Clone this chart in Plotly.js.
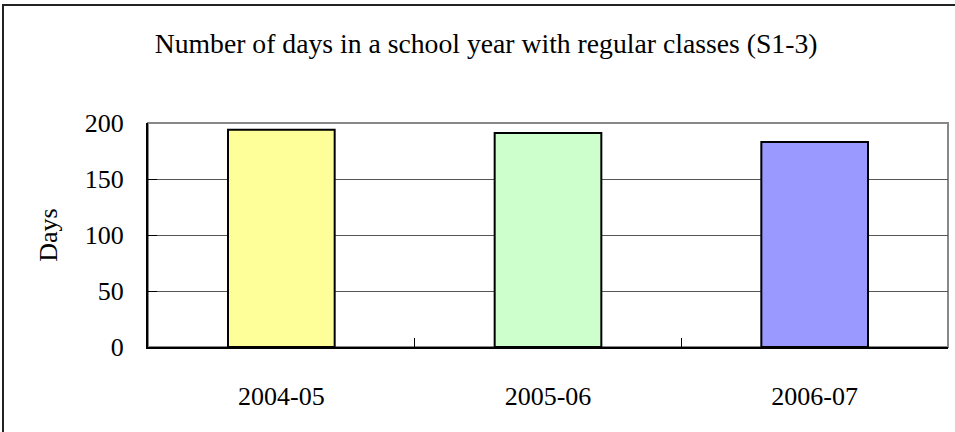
<!DOCTYPE html>
<html>
<head>
<meta charset="utf-8">
<script src="https://cdn.plot.ly/plotly-3.0.1.min.js"></script>
<style>
  html, body { margin: 0; padding: 0; background: #fff; overflow: hidden; }
  #wrap { position: relative; width: 955px; height: 432px; }
  #chart { width: 955px; height: 432px; }
  #frame { position: absolute; left: 2px; top: 4px; width: 1200px; height: 1200px;
           border-left: 2px solid #222; border-top: 2px solid #222; pointer-events: none; }
</style>
</head>
<body>
<div id="wrap">
  <div id="chart"></div>
  <div id="frame"></div>
</div>
<script>
const categories = ["2004-05", "2005-06", "2006-07"];
const days = [194, 191, 183];
const barColors = ["#FFFF99", "#CCFFCC", "#9999FF"];
const yTicks = [0, 50, 100, 150, 200];

const font = "Liberation Serif, Times New Roman, serif";

const trace = {
  type: "bar",
  x: categories,
  y: days,
  marker: { color: barColors, line: { color: "#000", width: 2 } },
  hoverinfo: "x+y"
};

const layout = {
  width: 955, height: 432,
  margin: { l: 148, r: 7, t: 123, b: 85 },
  paper_bgcolor: "#fff", plot_bgcolor: "#fff",
  font: { family: font, color: "#000", size: 26 },
  title: { text: "Number of days in a school year with regular classes (S1-3)",
           font: { family: font, size: 27.7, color: "#000" },
           x: 0.509, xanchor: "center", y: 0.9, yanchor: "middle" },
  bargap: 0.6,
  showlegend: false,
  xaxis: {
    type: "category",
    showline: true, linecolor: "#000", linewidth: 2,
    ticks: "inside", ticklen: 9, tickcolor: "#000", tickwidth: 1,
    tickson: "boundaries",
    showgrid: false,
    ticklabelstandoff: 25,
    tickfont: { family: font, size: 26, color: "#000" }
  },
  yaxis: {
    range: [0, 200], tickvals: yTicks,
    showline: true, linecolor: "#000", linewidth: 2,
    ticks: "inside", ticklen: 9, tickcolor: "#000", tickwidth: 1,
    showgrid: true, gridcolor: "#555", gridwidth: 1,
    zeroline: false,
    ticklabelstandoff: 17,
    tickfont: { family: font, size: 26, color: "#000" },
    title: { text: "Days", font: { family: font, size: 26, color: "#000" }, standoff: 20 }
  },
  shapes: [{
    type: "rect", xref: "paper", yref: "paper", x0: 0, x1: 1, y0: 0, y1: 1,
    line: { color: "#888", width: 2 }, layer: "below"
  }]
};

Plotly.newPlot("chart", [trace], layout, { displayModeBar: false, staticPlot: true });
</script>
</body>
</html>
